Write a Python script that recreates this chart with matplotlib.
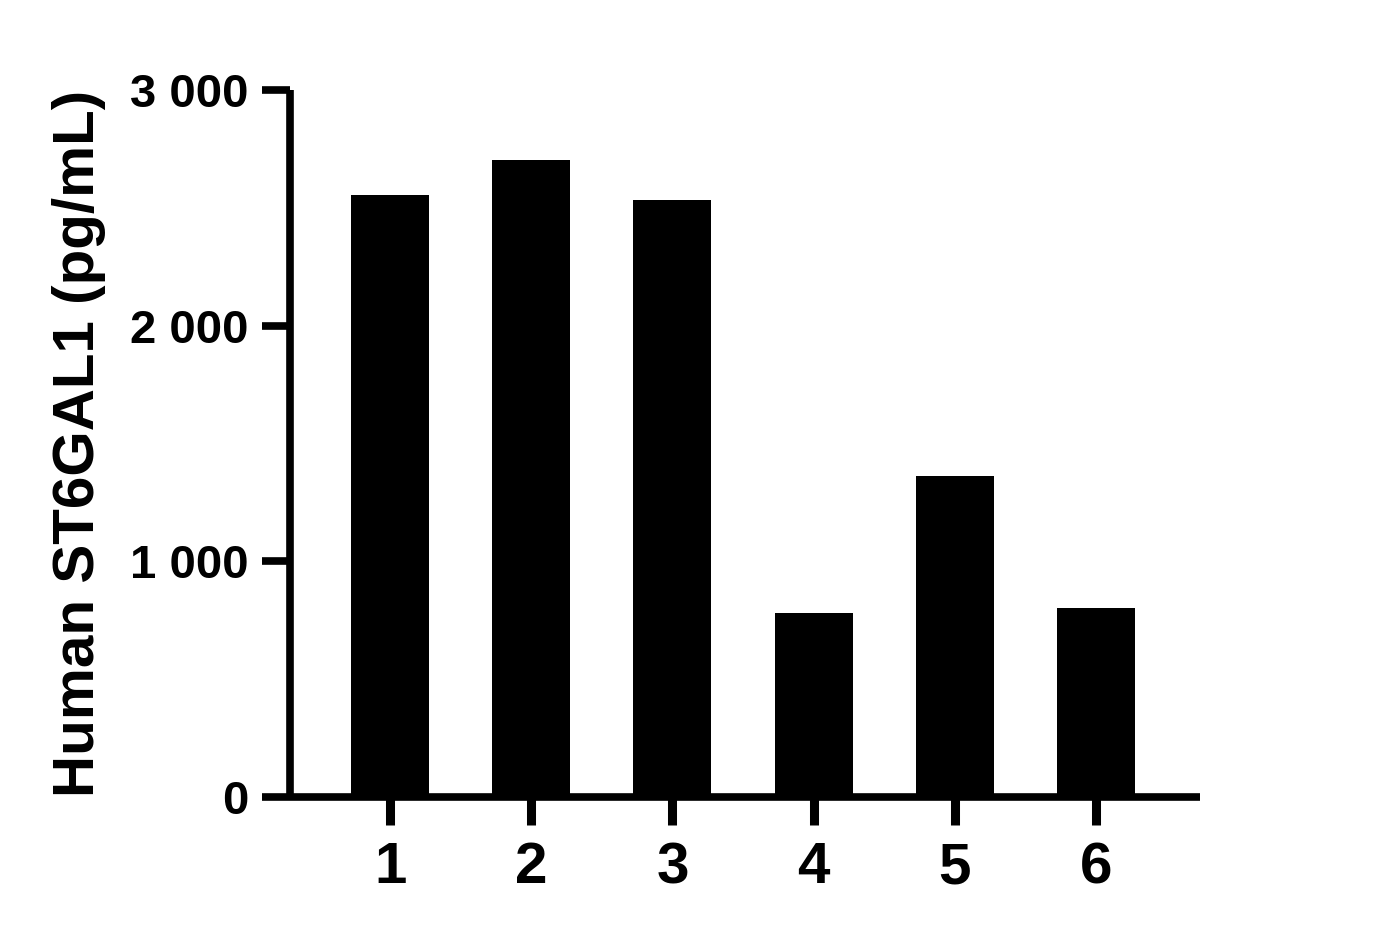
import matplotlib
matplotlib.use("Agg")
import matplotlib.pyplot as plt
from matplotlib.ticker import FuncFormatter

# data
samples = ["1", "2", "3", "4", "5", "6"]
values = [2555, 2705, 2535, 780, 1360, 800]
y_ticks = [0, 1000, 2000, 3000]

plt.rcParams['font.family'] = ['Liberation Sans', 'DejaVu Sans']
plt.rcParams['font.weight'] = 'bold'

fig = plt.figure(figsize=(13.79, 9.38), dpi=100)
ax = fig.add_axes([290 / 1379, 1 - 797 / 938, 910 / 1379, 707 / 938])

pos = list(range(1, len(samples) + 1))
ax.bar(pos, values, width=0.553, color='black', zorder=2)

ax.set_xlim(1 - 100 / 141, 6 + 104 / 141)
ax.set_ylim(0, 3000)
ax.set_xticks(pos)
ax.set_xticklabels(samples)
ax.set_yticks(y_ticks)
ax.yaxis.set_major_formatter(FuncFormatter(lambda v, p: f"{int(v):,}".replace(",", " ")))

for side in ['top', 'right']:
    ax.spines[side].set_visible(False)
for side in ['left', 'bottom']:
    ax.spines[side].set_linewidth(5.5)
    ax.spines[side].set_zorder(3)
    ax.spines[side].set_capstyle('butt')

ax.tick_params(axis='y', direction='out', length=20, width=5.5, labelsize=34, pad=10)
ax.tick_params(axis='x', direction='out', length=20, width=6.5, labelsize=42, pad=12)
for lab in ax.get_xticklabels() + ax.get_yticklabels():
    lab.set_fontweight('bold')

ax.set_ylabel("Human ST6GAL1 (pg/mL)", fontsize=42, fontweight='bold')
ax.yaxis.set_label_coords(-0.202, 0.5)

fig.savefig("out.png", dpi=100)
